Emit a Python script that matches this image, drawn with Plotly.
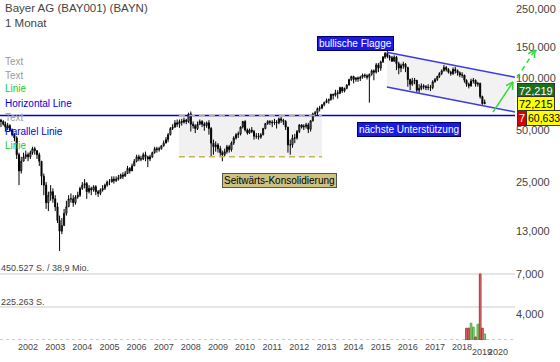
import plotly.graph_objects as go
import pandas as pd

# ---------------- data ----------------
title_text = "Bayer AG (BAY001) (BAYN)<br>1 Monat"
first_month = "2001-01-01"
first_open = 57

closes = [
    56, 54, 52, 53, 50, 47, 45, 36, 29, 33, 35, 36,            # 2001
    35, 37, 39, 38, 36, 33, 27, 24, 19, 21, 22, 20,            # 2002
    18, 15, 13, 14, 16.5, 18, 20, 20, 19, 20.5, 21, 23,        # 2003
    24, 24.5, 22, 23, 22.5, 23.5, 22, 21.5, 22.5, 23, 24, 25,  # 2004
    25, 26, 25.5, 26, 26.5, 27.5, 27, 28, 30, 29, 31, 33,      # 2005
    35, 34, 34, 36, 35, 34, 35, 37, 39, 38.5, 39, 40.5,        # 2006
    42, 44, 47, 51, 52, 55, 54, 56, 55.5, 57, 56, 62,          # 2007
    54, 53, 51, 54, 56, 54, 53, 55, 51, 42, 40, 41,            # 2008
    39, 37, 36, 37.5, 40, 38.5, 42, 45, 47, 47.5, 52, 56,      # 2009
    50, 48, 50, 49, 46, 46, 45.5, 47, 51, 54.5, 56, 55.5,      # 2010
    55, 55.5, 55, 58, 57, 56, 52, 41, 41, 45, 45, 49,          # 2011
    53.5, 52, 52.5, 53.5, 50.5, 56.5, 62, 63, 66.5, 67, 70, 72,  # 2012
    74, 75, 80.5, 79.5, 82, 81.5, 88, 84, 87, 91, 98, 102,     # 2013
    98, 100, 99, 101, 104, 103, 101, 105, 110, 108, 119, 114,  # 2014
    124, 132, 139, 133, 131, 125, 132, 121, 114, 118, 120, 115,  # 2015
    98, 92, 96, 97, 85, 87, 90, 89, 88, 88.5, 88, 95,          # 2016
    98, 102, 106, 110, 115, 112, 108, 106, 112, 110, 107, 104,  # 2017
    104, 97, 92, 90, 96, 97, 92, 93, 78, 71, 72.2,             # 2018
]
highs = [
    58, 57, 56, 55, 54, 51, 48, 46, 37, 35, 37, 38,
    37, 38, 40, 40, 38, 37, 33, 28, 25, 22, 24, 23,
    21, 19, 16, 15.5, 17.5, 19.5, 21, 21.5, 21, 21, 22, 23.5,
    25, 26, 25, 24, 23.5, 24, 24, 22.5, 23, 24, 24.5, 25.5,
    26, 27, 27, 27, 27.5, 28, 28.5, 29, 31, 30.5, 32, 34,
    36, 36, 35.5, 37, 37.5, 35.5, 36, 37.5, 40, 40, 40, 41,
    43.5, 45.5, 48, 52, 54, 57, 57.5, 57.5, 58, 59, 58, 63,
    64, 56, 54, 56, 57.5, 57, 55.5, 56, 57, 52, 44, 43,
    42, 40.5, 38, 39, 41, 41, 43, 46, 48, 49, 52.5, 56.5,
    57, 51, 51, 52, 50, 48, 48, 48, 51.5, 55, 57, 57,
    57, 58, 57, 59, 59.5, 58, 57, 52, 44, 47, 47.5, 50,
    54, 54, 54, 55, 55, 57, 63, 64.5, 67.5, 69, 70.5, 73,
    76, 76, 81, 81, 85.5, 85, 89, 89, 88, 92, 99, 103,
    103, 101, 102, 103, 106, 106, 105, 106, 112, 112, 122, 122,
    126, 134, 141, 143, 136, 134, 135, 134, 124, 121, 124, 122,
    116, 99, 100, 100, 97, 92, 93, 92, 91, 92, 91, 97,
    100, 103, 108, 112, 119, 117, 114, 110, 115, 116, 112, 109,
    108, 104, 98, 94, 99, 100, 98, 95, 94, 79, 75,
]
lows = [
    52, 53, 49, 50, 49, 46, 43, 34, 24, 28, 33, 34,
    33, 34, 36, 36, 34, 31, 24, 21, 17.5, 17, 19.5, 19,
    17, 14.5, 10, 12.5, 14, 16, 18, 19, 18, 18.5, 20, 20.5,
    22.5, 23, 20, 21.5, 21, 22, 21, 20.5, 21, 22, 22.5, 23.5,
    24, 25, 24.5, 25, 25.5, 26, 26, 27, 28, 28, 29, 31,
    32.5, 33, 33, 33.5, 33, 30.5, 33, 34.5, 36.5, 37, 37.5, 38.5,
    40, 42, 42.5, 46.5, 50, 51.5, 52, 51.5, 53, 54.5, 54, 55,
    49, 51, 48, 50, 53.5, 52, 49.5, 51.5, 47, 35, 36, 37.5,
    37, 35.5, 33, 35, 36.5, 37, 37.5, 41, 44, 45, 46.5, 51,
    49, 47, 47.5, 48, 44, 44.5, 44, 44.5, 46.5, 50.5, 53.5, 53.5,
    52, 53.5, 51, 54, 55, 53.5, 50, 37, 36, 39.5, 42, 44,
    48, 51, 50, 51, 48, 49, 56, 60, 61, 64, 66, 68.5,
    71.5, 71, 74, 75, 78, 76, 80.5, 82, 82.5, 86, 90.5, 96,
    93, 95, 95, 96, 99, 100, 98, 72, 103, 97, 106, 108,
    110, 122, 129, 130, 126, 124, 124, 111, 105, 108, 113, 108,
    89, 85, 90, 92, 83, 82, 85, 86, 85, 85, 84, 86,
    94, 96, 100, 104, 109, 109, 106, 103, 104, 106, 103, 101,
    100, 94, 89, 87, 89, 93, 89, 89, 76, 70, 70.5,
]

vol_first_month = "2018-03-01"
volumes = [1270, 1270, 1800, 1380, 320, 1700, 7100, 1270, 640]

price_tickvals = [13, 25, 50, 100, 150, 250]
price_ticktext = ["13,000", "25,000", "50,000", "100,000", "150,000", "250,000"]
vol_ticktext = ["7,000", "4,000"]
year_ticks = list(range(2002, 2019))
late_year_labels = ["2019", "2020"]

support_level = 60.633
consol_start, consol_end = "2007-07-25", "2012-11-01"
consol_low = 35
flag_dates = ["2015-03-25", "2019-12-14"]
flag_upper = [141, 101]
flag_lower = [88.7, 63.6]

value_boxes = ["72,219", "72,215", "7", "60,633"]
left_labels = ["Text", "Text", "Linie", "Horizontal Line", "Text", "Parallel Linie", "Linie"]
vol_labels = ["450.527 S. / 38,9 Mio.", "225.263 S."]

# ---------------- figure ----------------
FONT = "Liberation Sans, Arial, sans-serif"
W, H = 560, 362
ML, MR, MT, MB = 0, 45, 0, 22
PW, PH = W - ML - MR, H - MT - MB


def px(x):
    return (x - ML) / PW


def py(y):
    return (PH + MT - y) / PH


dates = pd.date_range(first_month, periods=len(closes), freq="MS")
opens = [first_open] + closes[:-1]
x_range = ["2000-12-19", "2019-12-14"]

fig = go.Figure()

fig.add_trace(go.Candlestick(
    x=dates, open=opens, high=highs, low=lows, close=closes,
    xaxis="x2", yaxis="y2", whiskerwidth=0,
    increasing=dict(line=dict(color="black", width=1), fillcolor="white"),
    decreasing=dict(line=dict(color="black", width=1), fillcolor="black"),
    showlegend=False, hoverinfo="skip",
))

# consolidation box and flag (translucent fills)
fig.add_trace(go.Scatter(
    x=[consol_start, consol_end, consol_end, consol_start, consol_start],
    y=[consol_low, consol_low, support_level, support_level, consol_low],
    fill="toself", fillcolor="rgba(0,0,0,0.055)", line=dict(width=0),
    mode="lines", xaxis="x2", yaxis="y2", showlegend=False, hoverinfo="skip"))
fig.add_trace(go.Scatter(
    x=[flag_dates[0], flag_dates[1], flag_dates[1], flag_dates[0], flag_dates[0]],
    y=[flag_upper[0], flag_upper[1], flag_lower[1], flag_lower[0], flag_upper[0]],
    fill="toself", fillcolor="rgba(0,0,0,0.05)", line=dict(width=0),
    mode="lines", xaxis="x2", yaxis="y2", showlegend=False, hoverinfo="skip"))

# support line
fig.add_trace(go.Scatter(
    x=x_range, y=[support_level, support_level], mode="lines",
    line=dict(color="#0000c8", width=1.5), xaxis="x2", yaxis="y2",
    showlegend=False, hoverinfo="skip"))
# consolidation dashed edges
for lvl in (consol_low, support_level):
    fig.add_trace(go.Scatter(
        x=[consol_start, consol_end], y=[lvl, lvl], mode="lines",
        line=dict(color="#c8b45a", width=1.5, dash="6px,4px"),
        xaxis="x2", yaxis="y2", showlegend=False, hoverinfo="skip"))
# flag lines
for ys in (flag_upper, flag_lower):
    fig.add_trace(go.Scatter(
        x=flag_dates, y=ys, mode="lines",
        line=dict(color="#3a3ae6", width=1.5),
        xaxis="x2", yaxis="y2", showlegend=False, hoverinfo="skip"))

# volume
vol_dates = pd.date_range(vol_first_month, periods=len(volumes), freq="MS")
idx0 = list(dates).index(vol_dates[0])
vol_up = [closes[idx0 + k] >= opens[idx0 + k] for k in range(len(volumes))]
fig.add_trace(go.Bar(
    x=vol_dates, y=volumes, xaxis="x", yaxis="y",
    marker=dict(color=["#9bd98a" if u else "#e07a7a" for u in vol_up],
                line=dict(color=["#4fa83f" if u else "#b83030" for u in vol_up], width=1)),
    showlegend=False, hoverinfo="skip"))

vmax = max(volumes)
vol_range_top = vmax / 0.846

shapes = [
    dict(type="line", xref="paper", yref="y", x0=0, x1=1, y0=vmax, y1=vmax,
         line=dict(color="#dddddd", width=1.5), layer="below"),
    dict(type="line", xref="paper", yref="y", x0=0, x1=1, y0=vmax / 2, y1=vmax / 2,
         line=dict(color="#dddddd", width=1.5), layer="below"),
    dict(type="line", xref="paper", yref="y", x0=0, x1=1, y0=0, y1=0,
         line=dict(color="#999999", width=1, dash="dot"), layer="below"),
]
# green arrows (solid, then dashed)
G = "#33dd33"
arrow_segments = [
    ((493, 112), (513, 82), "solid"), ((513, 82), (506, 85.6), "solid"), ((513, 82), (512.5, 90), "solid"),
    ((517, 78), (535, 50), "dash"), ((535, 50), (528, 53.6), "solid"), ((535, 50), (534.5, 58), "solid"),
]
for (a, b, d) in arrow_segments:
    shapes.append(dict(type="line", xref="paper", yref="paper",
                       x0=px(a[0]), y0=py(a[1]), x1=px(b[0]), y1=py(b[1]),
                       line=dict(color=G, width=1.5, dash="5px,4px" if d == "dash" else "solid")))

ann = []
ann.append(dict(text=title_text, x=px(3), y=py(0), xref="paper", yref="paper",
                xanchor="left", yanchor="top", showarrow=False, align="left",
                font=dict(family=FONT, size=11.5, color="#444444")))
left_colors = ["#999999", "#999999", "#22cc22", "#0000dd", "#999999", "#0000dd", "#22cc22"]
for k, (t, c) in enumerate(zip(left_labels, left_colors)):
    ann.append(dict(text=t, x=px(3), y=py(61 + 14 * k), xref="paper", yref="paper",
                    xanchor="left", yanchor="middle", showarrow=False,
                    font=dict(family=FONT, size=10, color=c)))
for t, yv in zip(vol_labels, (268, 302)):
    ann.append(dict(text=t, x=px(-1), y=py(yv), xref="paper", yref="paper",
                    xanchor="left", yanchor="middle", showarrow=False,
                    font=dict(family=FONT, size=9, color="#444444")))
# labelled boxes
boxes = [
    ("bullische Flagge", 355, 43, "#1a1ae6", "#000066", "white"),
    ("nächste Unterstützung", 409, 129, "#1a1ae6", "#000066", "white"),
    ("Seitwärts-Konsolidierung", 279, 180, "#cdc184", "#555544", "black"),
]
for t, xx, yy, bg, bc, fc in boxes:
    ann.append(dict(text=t, x=px(xx), y=py(yy), xref="paper", yref="paper",
                    xanchor="center", yanchor="middle", showarrow=False,
                    bgcolor=bg, bordercolor=bc, borderwidth=1, borderpad=1,
                    font=dict(family=FONT, size=10, color=fc)))
# right-hand value boxes
vb_style = [
    (517, 91, "#1e6e1e", "white", 11),
    (517, 103.5, "#ffff00", "black", 11),
    (517, 117.5, "#dd0000", "white", 11),
    (526, 117.5, "#ffff00", "black", 10.5),
]
for t, (xx, yy, bg, fc, fs) in zip(value_boxes, vb_style):
    ann.append(dict(text=t, x=px(xx), y=py(yy), xref="paper", yref="paper",
                    xanchor="left", yanchor="middle", showarrow=False,
                    bgcolor=bg, bordercolor="#333333", borderwidth=1, borderpad=1,
                    font=dict(family=FONT, size=fs, color=fc)))
for t, xx in zip(late_year_labels, (482, 498)):
    ann.append(dict(text=t, x=px(xx), y=py(352), xref="paper", yref="paper",
                    xanchor="center", yanchor="middle", showarrow=False,
                    font=dict(family=FONT, size=9, color="#444444")))

fig.update_layout(
    width=W, height=H, margin=dict(l=ML, r=MR, t=MT, b=MB),
    paper_bgcolor="white", plot_bgcolor="white",
    font=dict(family=FONT, size=11, color="#444444"),
    showlegend=False, bargap=0.25,
    xaxis=dict(domain=[0, 1], anchor="y", type="date", range=x_range,
               tickvals=[f"{y}-01-01" for y in year_ticks],
               ticktext=[str(y) for y in year_ticks],
               tickfont=dict(size=9, color="#444444"), ticks="",
               showgrid=False, zeroline=False, showline=False,
               rangeslider=dict(visible=False)),
    xaxis2=dict(domain=[0, 1], anchor="y2", type="date", range=x_range, matches="x",
                showticklabels=False, showgrid=False, zeroline=False, ticks="",
                rangeslider=dict(visible=False)),
    yaxis=dict(domain=[0, py(262)], range=[0, vol_range_top], side="right",
               tickvals=[vmax, vmax * 0.394], ticktext=vol_ticktext,
               tickfont=dict(size=11, color="#444444"), ticks="",
               showgrid=False, zeroline=False),
    yaxis2=dict(domain=[py(258), 1], type="log", range=[0.959, 2.4507], side="right",
                tickvals=price_tickvals, ticktext=price_ticktext,
                tickfont=dict(size=11, color="#444444"), ticks="",
                showgrid=False, zeroline=False),
    shapes=shapes, annotations=ann,
)

fig.write_html(
    "out.html",
    config={"displayModeBar": False},
    post_script="document.body.style.margin='0';document.body.style.overflow='hidden';",
)
